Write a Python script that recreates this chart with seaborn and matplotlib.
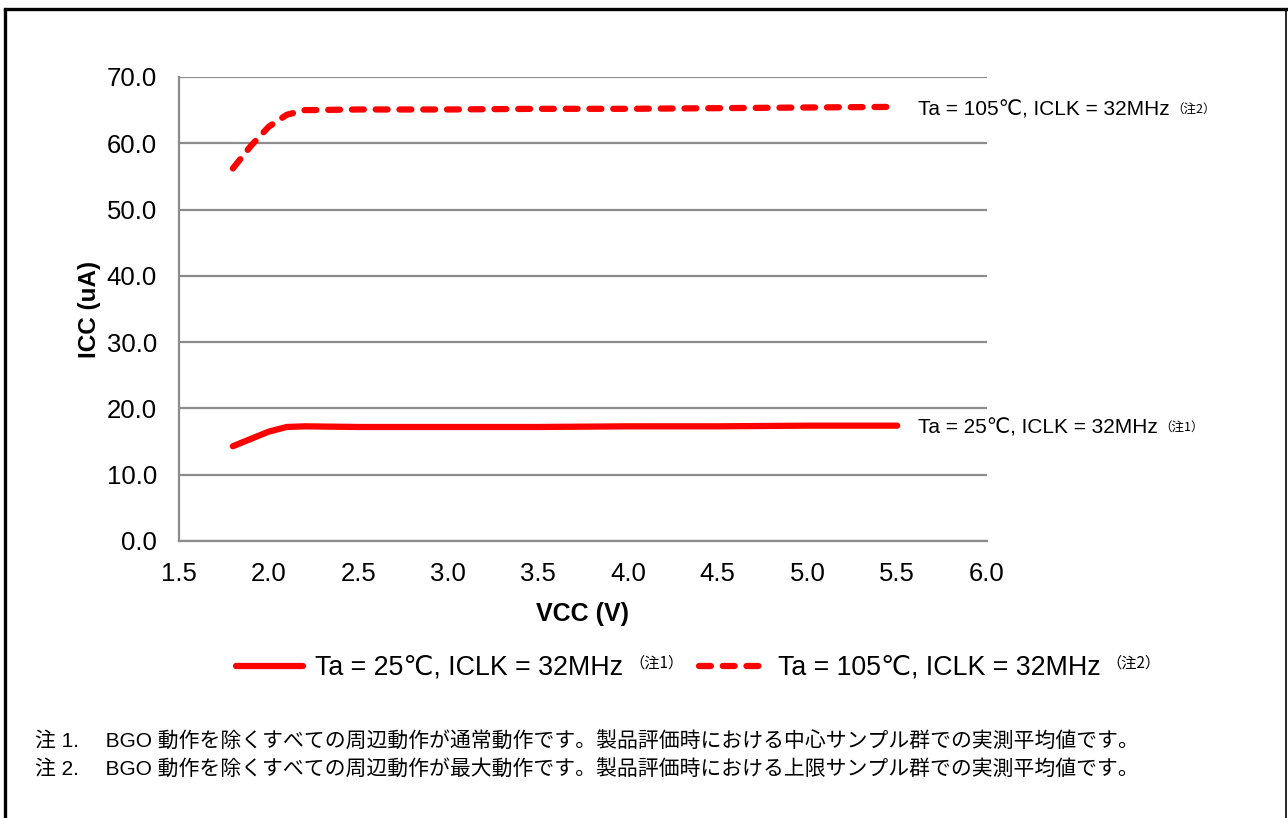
import matplotlib
matplotlib.use("Agg")
import matplotlib.pyplot as plt
import seaborn as sns
import pandas as pd
from matplotlib.lines import Line2D

vcc = [1.8, 1.9, 2.0, 2.1, 2.2, 2.5, 3.0, 3.5, 4.0, 4.5, 5.0, 5.5]
icc_25 = [14.3, 15.4, 16.5, 17.2, 17.3, 17.2, 17.2, 17.2, 17.3, 17.3, 17.4, 17.4]
icc_105 = [56.2, 59.6, 62.5, 64.3, 65.0, 65.1, 65.1, 65.2, 65.2, 65.3, 65.4, 65.5]
label_25 = "Ta = 25℃, ICLK = 32MHz"
label_105 = "Ta = 105℃, ICLK = 32MHz"
note_25 = "（注1）"
note_105 = "（注2）"
xticks = [1.5, 2.0, 2.5, 3.0, 3.5, 4.0, 4.5, 5.0, 5.5, 6.0]
yticks = [0, 10, 20, 30, 40, 50, 60, 70]
footnotes = [
    "注 1.\u3000 BGO 動作を除くすべての周辺動作が通常動作です。製品評価時における中心サンプル群での実測平均値です。",
    "注 2.\u3000 BGO 動作を除くすべての周辺動作が最大動作です。製品評価時における上限サンプル群での実測平均値です。",
]

sns.set_style("white")
FAM = ["Liberation Sans", "DejaVu Sans", "Noto Sans CJK JP"]
plt.rcParams["font.family"] = FAM
plt.rcParams["text.color"] = "black"
plt.rcParams["axes.labelcolor"] = "black"
plt.rcParams["xtick.color"] = "black"
plt.rcParams["ytick.color"] = "black"

df = pd.concat([
    pd.DataFrame({"VCC": vcc, "ICC": icc_25, "series": label_25}),
    pd.DataFrame({"VCC": vcc, "ICC": icc_105, "series": label_105}),
])

fig = plt.figure(figsize=(12.88, 8.18), dpi=100)
ax = fig.add_axes([179/1288, 1-541/818, (987-179)/1288, (541-77)/818])

DASH = (1.9, 1.9)
sns.lineplot(data=df, x="VCC", y="ICC", hue="series", style="series",
             palette={label_25: "#ff0000", label_105: "#ff0000"},
             dashes={label_25: "", label_105: DASH},
             linewidth=4.5, ax=ax, legend=False)
for ln in ax.lines:
    ln.set_solid_capstyle("round")
    ln.set_dash_capstyle("round")
    ln.set_solid_joinstyle("round")
    ln.set_dash_joinstyle("round")

ax.set_xlim(1.5, 6.0)
ax.set_ylim(0, 70)
ax.set_xticks(xticks)
ax.set_xticklabels([f"{t:.1f}" for t in xticks])
ax.set_yticks(yticks)
ax.set_yticklabels([f"{t:.1f}" for t in yticks])
ax.tick_params(axis="both", length=0, labelsize=18.5, colors="black")
ax.tick_params(axis="x", pad=15)
ax.tick_params(axis="y", pad=16)
ax.yaxis.grid(True, color="#8c8c8c", linewidth=1.6)
ax.xaxis.grid(False)
for s in ["top", "right"]:
    ax.spines[s].set_visible(False)
for s in ["left", "bottom"]:
    ax.spines[s].set_color("#8c8c8c")
    ax.spines[s].set_linewidth(1.6)
ax.set_axisbelow(True)
ax.set_xlabel("VCC (V)", fontsize=18, fontweight="bold", labelpad=12, color="black")
ax.set_ylabel("ICC (uA)", fontsize=17.5, fontweight="bold", color="black")
ax.yaxis.set_label_coords((101 - 179) / 808, 0.5)

# right-side annotations
ax.annotate(label_105, xy=(5.5, icc_105[-1]), xytext=(918, 818-110), textcoords="figure pixels",
            fontsize=15, va="center", ha="left", color="black")
ax.annotate(label_25, xy=(5.5, icc_25[-1]), xytext=(918, 818-428), textcoords="figure pixels",
            fontsize=15, va="center", ha="left", color="black")

# legend
handles = [
    Line2D([], [], color="#ff0000", lw=4.5, solid_capstyle="round"),
    Line2D([], [], color="#ff0000", lw=4.5, dashes=DASH, dash_capstyle="round"),
]
leg = fig.legend(handles, [label_25, label_105], loc="center left",
                 bbox_to_anchor=(223/1288, 1-668/818), borderpad=0,
                 ncol=2, frameon=False, fontsize=19.3, handlelength=2.5, handletextpad=0.45,
                 columnspacing=2.8, labelcolor="black")

fig.canvas.draw()
r = fig.canvas.get_renderer()
for t in ax.texts:
    bb = t.get_window_extent(r)
    note = note_105 if "105" in t.get_text() else note_25
    fig.text(bb.x1 + 2, bb.y1 - 2, note, fontsize=9, ha="left", va="top",
             transform=None, family=["Noto Sans CJK JP"], color="black")
for t, note in zip(leg.get_texts(), [note_25, note_105]):
    bb = t.get_window_extent(r)
    fig.text(bb.x1 + 6, bb.y1, note, fontsize=11, ha="left", va="top",
             transform=None, family=["Noto Sans CJK JP"], color="black")

fig.text(35/1288, 1-742/818, footnotes[0], fontsize=15, va="center", ha="left",
         family=["Liberation Sans", "Noto Sans CJK JP"], color="black")
fig.text(35/1288, 1-770/818, footnotes[1], fontsize=15, va="center", ha="left",
         family=["Liberation Sans", "Noto Sans CJK JP"], color="black")

# frame border
fig.add_artist(Line2D([5/1288, 1286/1288], [1-9/818, 1-9/818], color="black", lw=2.4,
                      transform=fig.transFigure, solid_capstyle="projecting"))
fig.add_artist(Line2D([5/1288, 5/1288], [0, 1-9/818], color="black", lw=2.4,
                      transform=fig.transFigure))
fig.add_artist(Line2D([1286/1288, 1286/1288], [0, 1-9/818], color="black", lw=1.2,
                      transform=fig.transFigure))

fig.savefig("out.png", dpi=100, facecolor="white")
